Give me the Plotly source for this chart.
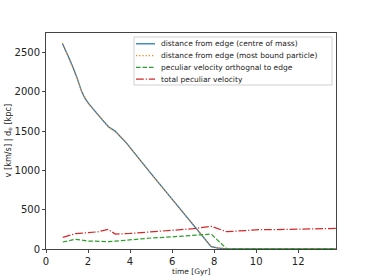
import plotly.graph_objects as go

# time [Gyr] and distances [kpc]
t_dist = [0.78, 1.14, 1.46, 1.70, 1.85, 2.02, 2.49, 2.97, 3.29, 3.84, 5.0, 6.0, 7.0, 7.6, 7.86, 8.2, 8.6, 10.0, 12.0, 13.8]
d_com = [2617, 2405, 2192, 2001, 1920, 1853, 1705, 1556, 1501, 1345, 960, 635, 310, 115, 30, 12, 3, 2, 2, 2]
d_mbp = [2620, 2402, 2190, 2004, 1923, 1850, 1708, 1553, 1498, 1348, 957, 632, 313, 118, 33, 14, 4, 3, 3, 3]

# time [Gyr] and velocities [km/s]
t_vel = [0.8, 1.4, 2.0, 2.5, 2.95, 3.3, 4.0, 5.0, 6.0, 7.0, 7.86, 8.6, 9.5, 10.0, 11.0, 12.0, 13.0, 13.8]
v_orth = [89, 123, 102, 95, 93, 100, 120, 140, 155, 170, 190, 3, 2, 2, 2, 2, 3, 5]
v_tot = [149, 195, 207, 220, 250, 190, 198, 215, 235, 258, 289, 220, 235, 245, 248, 255, 258, 262]

names = ["distance from edge (centre of mass)", "distance from edge (most bound particle)",
         "peculiar velocity orthognal to edge", "total peculiar velocity"]
colors = ["#1f77b4", "#ff7f0e", "#2ca02c", "#d62728"]
dashes = ["solid", "1.2px,2px", "4.5px,2px", "7.8px,1.9px,1.2px,1.9px"]
xs = [t_dist, t_dist, t_vel, t_vel]
ys = [d_com, d_mbp, v_orth, v_tot]

fig = go.Figure()
for n, c, d, x, y in zip(names, colors, dashes, xs, ys):
    fig.add_trace(go.Scatter(x=x, y=y, mode="lines", name=n, showlegend=False,
                             line=dict(color=c, width=1.25, dash=d)))

FONT = "DejaVu Sans"
axis_common = dict(showline=True, mirror=True, linecolor="#444444", linewidth=1,
                   ticks="outside", ticklen=3, tickcolor="#444444", showgrid=False, zeroline=False,
                   automargin=False,
                   tickfont=dict(family=FONT, size=10, color="#222222"))

# plot-area pixel geometry (for legend in paper coords)
L, R, T, B = 46, 336, 33, 249
W, H = R - L, B - T
def px(x): return (x - L) / W
def py(y): return (B - y) / H

shapes = [dict(type="rect", xref="paper", yref="paper", x0=px(134), x1=px(332), y0=py(85), y1=py(37),
               line=dict(color="#d0d0d0", width=1), fillcolor="rgba(255,255,255,0.85)", layer="above")]
annotations = []
rows = [43.8, 55.6, 67.4, 79.2]
for n, c, d, r in zip(names, colors, dashes, rows):
    shapes.append(dict(type="line", xref="paper", yref="paper", x0=px(136), x1=px(155), y0=py(r), y1=py(r),
                       line=dict(color=c, width=1.25, dash=d), layer="above"))
    annotations.append(dict(text=n, xref="paper", yref="paper", x=px(159), y=py(r), xanchor="left",
                            yanchor="middle", showarrow=False, font=dict(family=FONT, size=7.5, color="#222222")))

annotations.append(dict(text="time [Gyr]", xref="paper", yref="paper", x=px(191), y=py(271),
                        xanchor="center", yanchor="middle", showarrow=False,
                        font=dict(family=FONT, size=7.5, color="#222222")))
annotations.append(dict(text="v [km/s] | d<sub>e</sub> [kpc]", xref="paper", yref="paper", x=px(7.5), y=0.5,
                        xanchor="center", yanchor="middle", textangle=-90, showarrow=False,
                        font=dict(family=FONT, size=8.2, color="#222222")))

fig.update_layout(
    width=374, height=280,
    margin=dict(l=L, r=374 - R, t=T, b=280 - B),
    paper_bgcolor="white", plot_bgcolor="white",
    showlegend=False,
    xaxis=dict(range=[0, 13.8], tickvals=[0, 2, 4, 6, 8, 10, 12], **axis_common),
    yaxis=dict(range=[0, 2750], tickvals=[0, 500, 1000, 1500, 2000, 2500], **axis_common),
    shapes=shapes,
    annotations=annotations,
)

fig.write_html("out.html", config={"displayModeBar": False},
               post_script="document.body.style.margin='0';document.body.style.padding='0';")
